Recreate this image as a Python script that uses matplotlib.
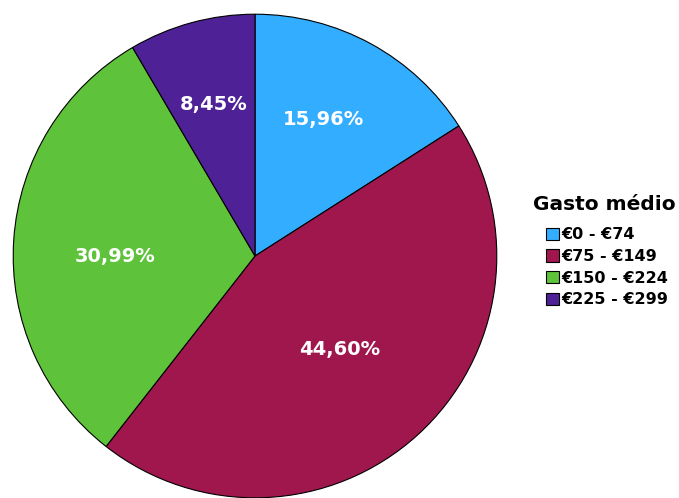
import matplotlib.pyplot as plt
import numpy as np

categories = ["€0 - €74", "€75 - €149", "€150 - €224", "€225 - €299"]
values = [15.96, 44.60, 30.99, 8.45]
colors = ["#33adff", "#a0174e", "#5ec23a", "#4f2196"]
label_r = [0.63, 0.52, 0.58, 0.65]
label_shift = [2, 0, 4, 0]  # degrees, label nudges

fig = plt.figure(figsize=(6.79, 4.98), dpi=100)
ax = fig.add_axes([11/679, -1/498, 488/679, 486/498])
wedges, _ = ax.pie(values, colors=colors, startangle=90, counterclock=False,
                   wedgeprops=dict(edgecolor="black", linewidth=0.8))
ax.set_xlim(-1.005, 1.005)
ax.set_ylim(-1.005, 1.005)

# percentage labels
start = 90
for v, r, s in zip(values, label_r, label_shift):
    mid = np.deg2rad(start - v * 3.6 / 2 + s)
    start -= v * 3.6
    ax.text(r * np.cos(mid), r * np.sin(mid), f"{v:.2f}%".replace(".", ","),
            color="white", fontsize=14, fontweight="bold", ha="center", va="center")

fig.text(533/679, 1 - 204/498, "Gasto médio", fontsize=14.5, fontweight="bold",
         ha="left", va="center")
leg = fig.legend(wedges, categories, loc="upper left", bbox_to_anchor=(532/679, 1 - 213/498),
                 frameon=False, prop=dict(size=11.5, weight="bold"),
                 handlelength=0.8, handleheight=0.8, handletextpad=0.15, labelspacing=0.42)

fig.savefig("out.png", dpi=100)
